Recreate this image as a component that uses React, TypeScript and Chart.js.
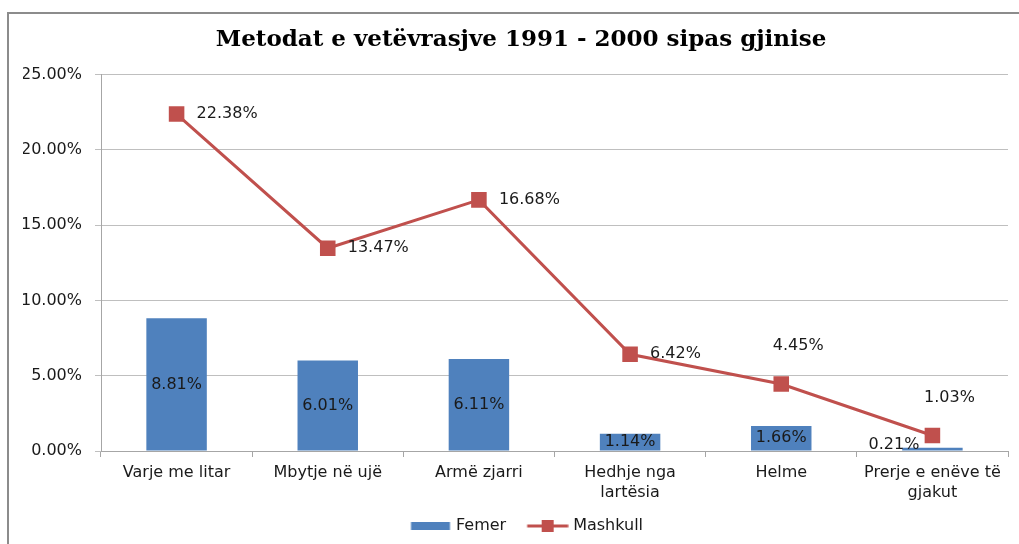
import React, { useEffect, useRef } from "react";
import { Chart, registerables } from "chart.js";

Chart.register(...registerables);

const categories: (string | string[])[] = [
  "Varje me litar",
  "Mbytje në ujë",
  "Armë zjarri",
  ["Hedhje nga", "lartësia"],
  "Helme",
  ["Prerje e enëve të", "gjakut"],
];
const femer = [8.81, 6.01, 6.11, 1.14, 1.66, 0.21];
const mashkull = [22.38, 13.47, 16.68, 6.42, 4.45, 1.03];
const yMin = 0;
const yMax = 25;
const yStep = 5;
const titleText = "Metodat e vetëvrasjve 1991 - 2000 sipas gjinise";
const seriesNames = ["Femer", "Mashkull"];
// label placement for the line series (styling)
const mashkullLabelPos = ["right", "right", "right", "right", "above", "above"];

const BLUE = "#4F81BD";
const RED = "#C0504D";
const TEXT = "#1a1a1a";
const FONT = "'DejaVu Sans', sans-serif";

const fmt = (v: number) => v.toFixed(2) + "%";

export default function App() {
  const ref = useRef<HTMLCanvasElement | null>(null);

  useEffect(() => {
    if (!ref.current) return;
    const mk = (w: number, h: number, draw: (g: CanvasRenderingContext2D) => void) => {
      const c = document.createElement("canvas");
      c.width = w;
      c.height = h;
      const g = c.getContext("2d")!;
      draw(g);
      return c;
    };
    // legend icons: canvas is centred in a 49px box; icons are drawn towards the text side
    const femerIcon = mk(56, 12, (g) => {
      g.fillStyle = BLUE;
      g.fillRect(15.5, 2, 39, 8);
    });
    const mashIcon = mk(56, 12, (g) => {
      g.strokeStyle = RED;
      g.lineWidth = 3;
      g.beginPath();
      g.moveTo(14.5, 6);
      g.lineTo(55.5, 6);
      g.stroke();
      g.fillStyle = RED;
      g.fillRect(29, 0, 12, 12);
    });

    const labelPlugin = {
      id: "valueLabels",
      afterDatasetsDraw(chart: any) {
        const ctx = chart.ctx as CanvasRenderingContext2D;
        ctx.save();
        ctx.font = `16px ${FONT}`;
        ctx.fillStyle = TEXT;
        ctx.textBaseline = "middle";
        const barMeta = chart.getDatasetMeta(0);
        barMeta.data.forEach((el: any, i: number) => {
          const { x, y, base } = el.getProps(["x", "y", "base"], true);
          const h = base - y;
          const t = fmt(femer[i]);
          if (h > 12) {
            ctx.textAlign = "center";
            ctx.fillText(t, x, (y + base) / 2);
          } else {
            ctx.textAlign = "right";
            ctx.fillText(t, x - 13, base - 6);
          }
        });
        const lineMeta = chart.getDatasetMeta(1);
        lineMeta.data.forEach((el: any, i: number) => {
          const { x, y } = el.getProps(["x", "y"], true);
          const t = fmt(mashkull[i]);
          if (mashkullLabelPos[i] === "right") {
            ctx.textAlign = "left";
            ctx.fillText(t, x + 20, y);
          } else {
            ctx.textAlign = "center";
            ctx.fillText(t, x + 17, y - 38);
          }
        });
        ctx.restore();
      },
    };

    const chart = new Chart(ref.current, {
      type: "bar",
      data: {
        labels: categories as any,
        datasets: [
          {
            type: "bar",
            label: seriesNames[0],
            data: femer,
            backgroundColor: BLUE,
            borderWidth: 0,
            categoryPercentage: 1,
            barPercentage: 0.4,
          },
          {
            type: "line",
            label: seriesNames[1],
            data: mashkull,
            borderColor: RED,
            backgroundColor: RED,
            borderWidth: 3,
            pointStyle: "rect",
            pointRadius: 11,
            pointBorderWidth: 0,
            pointBackgroundColor: RED,
            tension: 0,
          },
        ] as any,
      },
      options: {
        animation: false,
        responsive: false,
        maintainAspectRatio: false,
        layout: { padding: { left: 23, right: 0, top: 0, bottom: 0 } },
        plugins: {
          tooltip: { enabled: false },
          title: {
            display: true,
            text: titleText,
            color: "#000",
            font: { family: "'DejaVu Serif', serif", size: 23, weight: "bold", lineHeight: 1.2 },
            padding: { top: 26, bottom: 21 },
          },
          legend: {
            display: true,
            position: "bottom",
            labels: {
              usePointStyle: true,
              pointStyleWidth: 49,
              padding: 10,
              color: TEXT,
              font: { family: FONT, size: 16 },
              generateLabels: () => [
                {
                  text: seriesNames[0],
                  pointStyle: femerIcon as any,
                  fillStyle: BLUE,
                  strokeStyle: BLUE,
                  lineWidth: 0,
                  hidden: false,
                  datasetIndex: 0,
                  fontColor: TEXT,
                },
                {
                  text: seriesNames[1],
                  pointStyle: mashIcon as any,
                  fillStyle: RED,
                  strokeStyle: RED,
                  lineWidth: 0,
                  hidden: false,
                  datasetIndex: 1,
                  fontColor: TEXT,
                },
              ],
            },
          },
        },
        scales: {
          x: {
            offset: true,
            grid: {
              display: true,
              offset: true,
              drawOnChartArea: false,
              drawTicks: true,
              tickLength: 6,
              color: "#A6A6A6",
            },
            border: { display: true, color: "#A6A6A6" },
            ticks: {
              color: TEXT,
              padding: 5,
              maxRotation: 0,
              autoSkip: false,
              font: { family: FONT, size: 16, lineHeight: 1.3 },
            },
            afterFit: (s: any) => {
              s.height = 57;
            },
          },
          y: {
            min: yMin,
            max: yMax,
            ticks: {
              stepSize: yStep,
              color: TEXT,
              padding: 13,
              font: { family: FONT, size: 16 },
              callback: (v: any) => fmt(Number(v)),
            },
            grid: {
              color: "#BFBFBF",
              drawTicks: true,
              tickLength: 6,
            },
            border: { display: true, color: "#A6A6A6" },
            afterFit: (s: any) => {
              s.width = 78;
            },
          },
          y2: {
            position: "right",
            display: true,
            grid: { display: false },
            ticks: { display: false },
            border: { display: false },
            afterFit: (s: any) => {
              s.width = 9;
            },
          },
        },
      } as any,
      plugins: [labelPlugin],
    });
    return () => chart.destroy();
  }, []);

  return (
    <div style={{ position: "fixed", left: 0, top: 0, width: 1019, height: 544, overflow: "hidden", background: "#fff" }}>
      <div
        style={{
          position: "absolute",
          left: 7,
          top: 12,
          width: 1300,
          height: 800,
          border: "2px solid #8c8c8c",
          boxSizing: "border-box",
        }}
      />
      <canvas ref={ref} width={1019} height={544} style={{ position: "absolute", left: 0, top: 0, width: 1019, height: 544 }} />
    </div>
  );
}
